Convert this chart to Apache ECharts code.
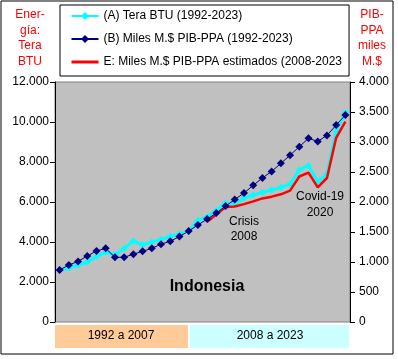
<!DOCTYPE html>
<html><head><meta charset="utf-8">
<script src="https://cdn.jsdelivr.net/npm/echarts@6/dist/echarts.min.js"></script>
<style>html,body{margin:0;padding:0;background:#fff}#c{width:398px;height:359px}</style>
</head><body><div id="c"></div>
<script>
const years = ['1992','1993','1994','1995','1996','1997','1998','1999','2000','2001','2002','2003','2004','2005','2006','2007','2008','2009','2010','2011','2012','2013','2014','2015','2016','2017','2018','2019','2020','2021','2022','2023'];
const energyTeraBTU = [2600,2700,2840,3000,3270,3500,3350,3680,4050,3850,4000,4120,4280,4400,4530,5080,5260,5580,5950,5900,6200,6350,6480,6600,6720,6900,7600,7830,7020,7400,9550,10470];
const gdpPPA = [867,950,1010,1100,1183,1228,1078,1078,1130,1178,1228,1297,1345,1425,1515,1617,1715,1815,1933,2040,2150,2278,2400,2510,2644,2780,2922,3061,3010,3110,3283,3450];
const gdpEstimated = [null,null,null,null,null,null,null,null,null,null,null,null,null,null,null,null,1672,1790,1915,1925,1965,2010,2060,2089,2128,2190,2425,2490,2244,2400,3070,3339];
const seriesNames = ['(A) Tera BTU (1992-2023)','(B) Miles M.$ PIB-PPA (1992-2023)','E: Miles M.$ PIB-PPA estimados (2008-2023'];
const leftTicks = {min:0,max:12000,interval:2000};
const rightTicks = {min:0,max:4000,interval:500};
const periodLabels = ['1992 a 2007','2008 a 2023'];

const F = 'Liberation Sans, Arial, sans-serif';
const fmt = v => String(v).replace(/\B(?=(\d{3})+(?!\d))/g,'.');
const chart = echarts.init(document.getElementById('c'), null, {renderer:'canvas'});
const txt = (x,y,s,o={}) => ({type:'text',x,y,style:Object.assign({text:s,font:'12px '+F,fill:'#000',align:'center',verticalAlign:'middle'},o),silent:true});
chart.setOption({
  animation:false,
  backgroundColor:'#fff',
  textStyle:{fontFamily:F},
  grid:{left:55,right:48,top:82,bottom:37,show:true,backgroundColor:'#C0C0C0',borderColor:'#808080',borderWidth:1},
  legend:{
    orient:'vertical',left:60,top:5,width:288,
    backgroundColor:'#fff',borderColor:'#000',borderWidth:1,
    padding:[5,7,8,10],itemGap:11,itemWidth:27,itemHeight:10,
    textStyle:{fontSize:12,fontFamily:F,color:'#000'},
    data:[{name:seriesNames[0]},{name:seriesNames[1]},{name:seriesNames[2],itemStyle:{opacity:0},lineStyle:{width:3}}]
  },
  xAxis:{type:'category',data:years,boundaryGap:true,axisLabel:{show:false},axisTick:{show:false},axisLine:{show:false}},
  yAxis:[
    {type:'value',position:'left',min:leftTicks.min,max:leftTicks.max,interval:leftTicks.interval,
     splitLine:{show:false},axisLine:{show:true,lineStyle:{color:'#000'}},axisTick:{show:true,length:5,lineStyle:{color:'#000'}},
     axisLabel:{fontSize:12,color:'#000',fontFamily:F,margin:6,formatter:fmt}},
    {type:'value',position:'right',min:rightTicks.min,max:rightTicks.max,interval:rightTicks.interval,
     splitLine:{show:false},axisLine:{show:true,lineStyle:{color:'#000'}},axisTick:{show:true,length:5,lineStyle:{color:'#000'}},
     axisLabel:{fontSize:12,color:'#000',fontFamily:F,margin:9,formatter:fmt}}
  ],
  series:[
    {name:seriesNames[0],type:'line',yAxisIndex:0,data:energyTeraBTU,color:'#00FFFF',showAllSymbol:true,
     lineStyle:{width:3,color:'#00FFFF'},symbol:'diamond',symbolSize:7,itemStyle:{color:'#00FFFF'},z:2},
    {name:seriesNames[2],type:'line',yAxisIndex:1,data:gdpEstimated,color:'#FF0000',
     lineStyle:{width:2.5,color:'#FF0000'},symbol:'none',showSymbol:false,z:3},
    {name:seriesNames[1],type:'line',yAxisIndex:1,data:gdpPPA,color:'#000080',showAllSymbol:true,
     lineStyle:{width:1,color:'#000080'},symbol:'diamond',symbolSize:8,itemStyle:{color:'#000080'},z:4}
  ],
  graphic:[
    {type:'rect',shape:{x:1,y:1,width:392,height:353},style:{fill:'none',stroke:'#000',lineWidth:1},silent:true,z:-1},
    {type:'rect',shape:{x:55,y:325,width:133,height:23},style:{fill:'#FFCC99'},silent:true},
    {type:'rect',shape:{x:190,y:325,width:159,height:23},style:{fill:'#CCFFFF'},silent:true},
    txt(121,336,periodLabels[0]),
    txt(270,336,periodLabels[1]),
    txt(30,15,'Ener-',{fill:'#FF0000'}),
    txt(30,31,'gía:',{fill:'#FF0000'}),
    txt(30,46,'Tera',{fill:'#FF0000'}),
    txt(30,62,'BTU',{fill:'#FF0000'}),
    txt(372,15,'PIB-',{fill:'#FF0000'}),
    txt(372,31,'PPA',{fill:'#FF0000'}),
    txt(372,46,'miles',{fill:'#FF0000'}),
    txt(372,62,'M.$',{fill:'#FF0000'}),
    txt(244,222,'Crisis'),
    txt(244,237,'2008'),
    txt(320,197,'Covid-19'),
    txt(320,213,'2020'),
    txt(207,287,'Indonesia',{font:'bold 16px '+F})
  ]
});
</script></body></html>
